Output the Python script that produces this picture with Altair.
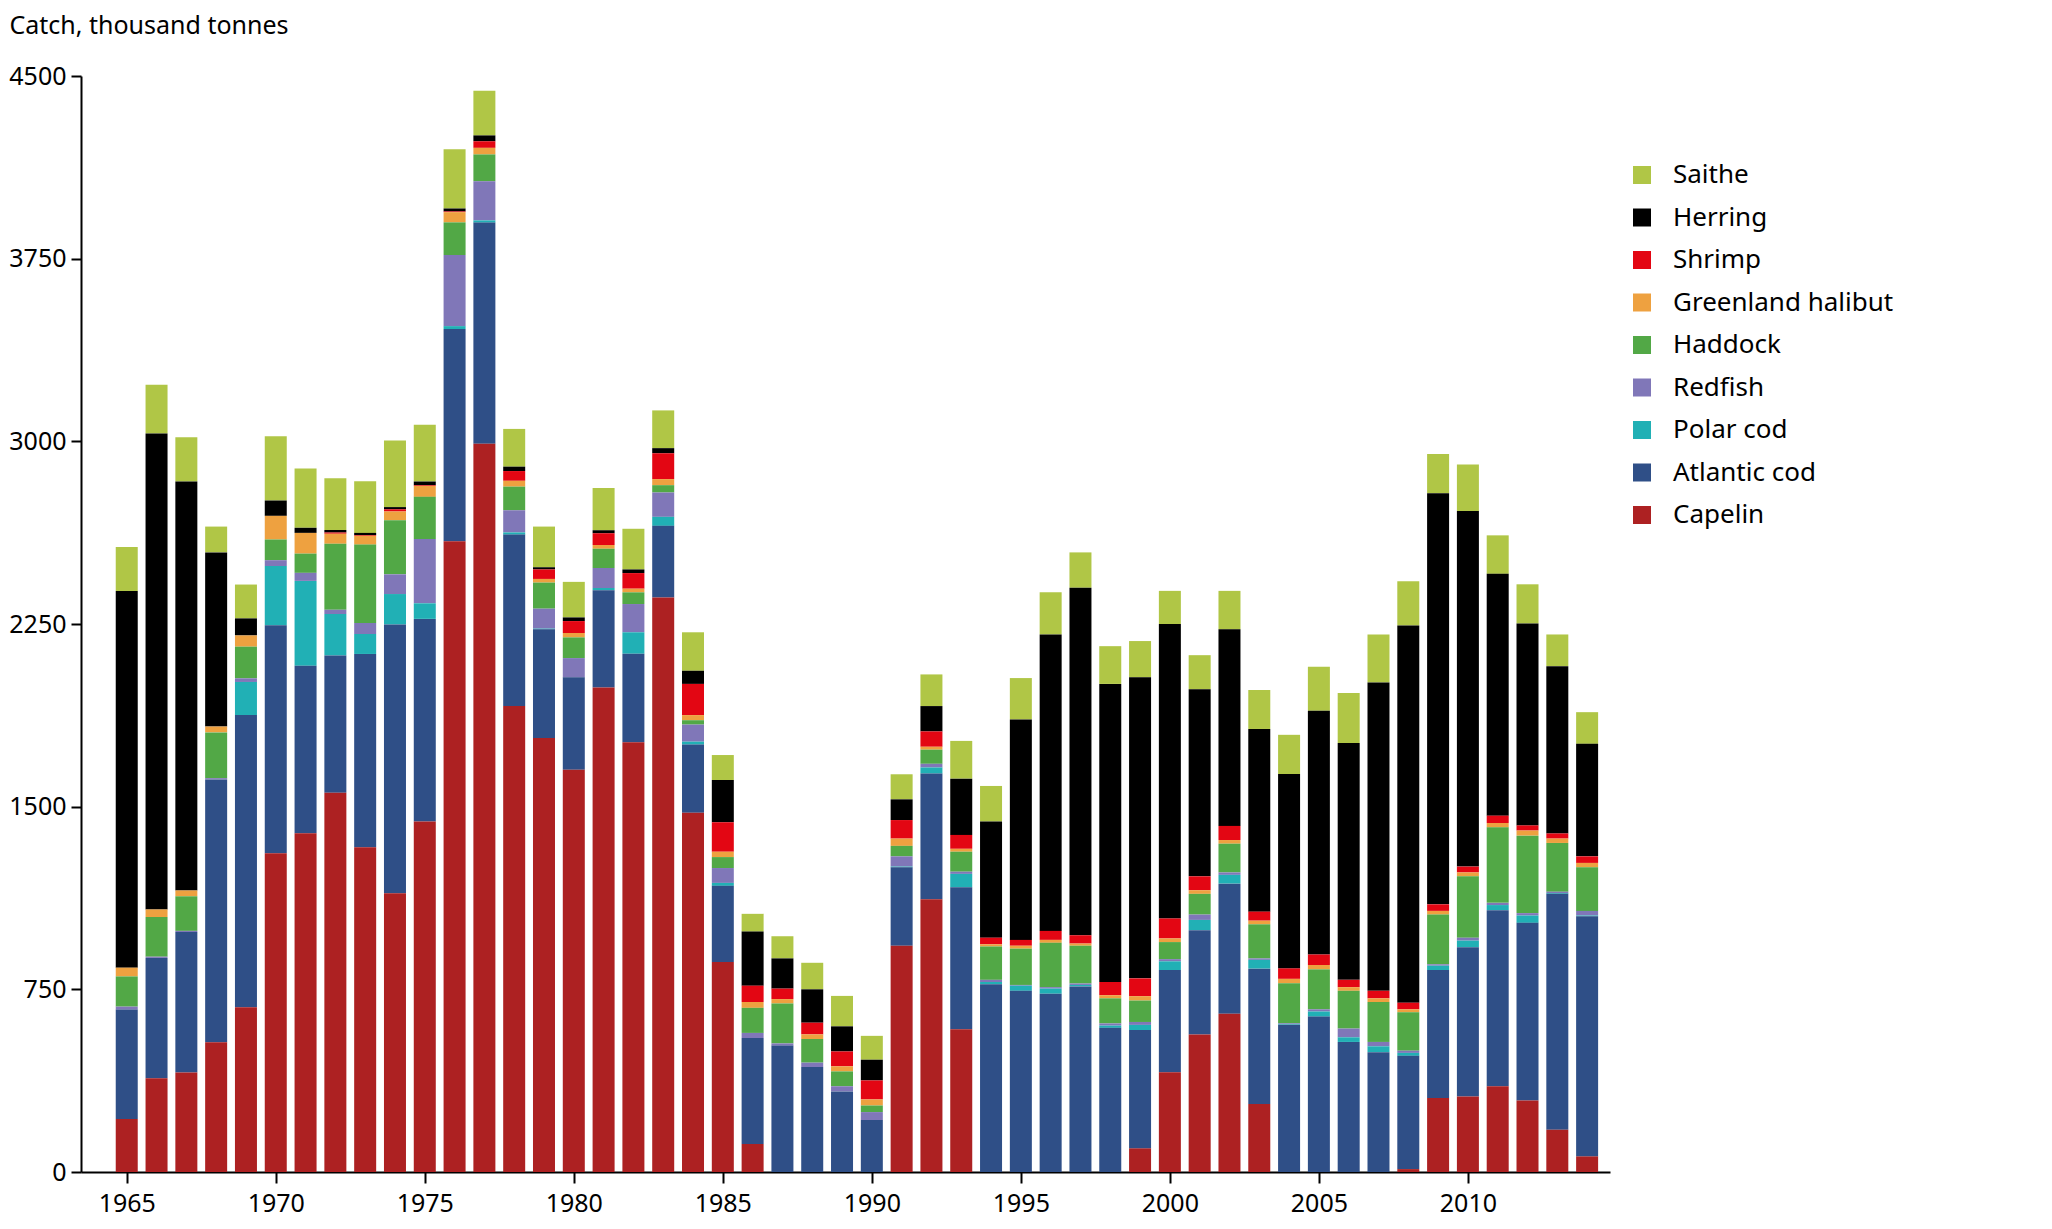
import altair as alt
import pandas as pd

years = list(range(1965, 2015))

# catch per species, thousand tonnes, 1965-2014
capelin = [218, 385, 409, 533, 676, 1309, 1391, 1557, 1333, 1145,
           1439, 2590, 2990, 1913, 1782, 1652, 1989, 1764, 2359, 1475,
           862, 115, 0, 0, 0, 0, 929, 1120, 586, 0,
           0, 0, 0, 0, 97, 410, 565, 650, 279, 0,
           0, 0, 0, 12, 304, 310, 352, 294, 173, 64]
atlantic_cod = [449, 494, 576, 1079, 1200, 936, 688, 564, 794, 1103,
                832, 871, 908, 704, 446, 379, 400, 364, 294, 280,
                313, 435, 519, 431, 331, 213, 322, 516, 583, 771,
                744, 732, 762, 592, 486, 419, 428, 534, 556, 605,
                638, 534, 492, 465, 525, 613, 723, 729, 969, 986]
polar_cod = [0, 0, 0, 0, 136, 243, 348, 170, 82, 125,
             64, 12, 9, 9, 3, 0, 9, 88, 37, 12,
             12, 0, 0, 0, 0, 0, 3, 25, 55, 9,
             21, 21, 6, 9, 21, 36, 42, 36, 36, 3,
             21, 19, 24, 12, 18, 27, 21, 30, 3, 3]
redfish = [12, 5, 5, 5, 15, 24, 33, 18, 45, 81,
           264, 292, 161, 91, 82, 79, 82, 116, 100, 70,
           61, 21, 9, 18, 21, 33, 42, 15, 9, 9,
           3, 6, 6, 9, 12, 9, 22, 10, 6, 3,
           9, 36, 18, 9, 6, 12, 9, 10, 6, 19]
haddock = [124, 163, 142, 188, 130, 85, 79, 270, 322, 222,
           173, 134, 110, 97, 107, 85, 79, 48, 30, 18,
           45, 103, 164, 97, 61, 27, 43, 58, 82, 137,
           149, 182, 155, 103, 88, 70, 85, 118, 140, 164,
           164, 155, 164, 158, 204, 252, 310, 318, 200, 179]
greenland_halibut = [36, 31, 24, 24, 46, 97, 85, 42, 36, 36,
                     45, 42, 27, 24, 15, 18, 15, 15, 25, 21,
                     22, 24, 18, 19, 21, 25, 30, 12, 12, 9,
                     12, 12, 9, 13, 18, 15, 15, 15, 15, 18,
                     18, 15, 15, 12, 15, 16, 18, 21, 18, 18]
shrimp = [0, 0, 0, 0, 0, 0, 0, 5, 3, 9,
          3, 3, 27, 40, 39, 49, 49, 64, 106, 128,
          121, 67, 43, 48, 61, 78, 76, 63, 57, 27,
          24, 37, 34, 54, 73, 82, 57, 58, 37, 43,
          43, 30, 31, 27, 27, 24, 30, 21, 21, 27]
herring = [1546, 1954, 1679, 715, 70, 63, 21, 10, 9, 9,
           15, 12, 24, 18, 9, 15, 12, 15, 21, 54,
           173, 222, 124, 137, 103, 85, 85, 104, 231, 477,
           905, 1217, 1427, 1224, 1236, 1209, 768, 807, 750, 798,
           1001, 972, 1266, 1549, 1688, 1460, 993, 829, 687, 462]
saithe = [181, 200, 182, 106, 139, 264, 243, 212, 212, 273,
          233, 243, 183, 155, 167, 146, 173, 167, 155, 158,
          103, 73, 91, 109, 125, 98, 103, 130, 155, 146,
          170, 173, 145, 155, 149, 136, 140, 158, 160, 161,
          180, 206, 197, 182, 161, 191, 158, 161, 130, 130]

# legend order (top to bottom); stacking goes the other way
species = ["Saithe", "Herring", "Shrimp", "Greenland halibut", "Haddock",
           "Redfish", "Polar cod", "Atlantic cod", "Capelin"]
colors = ["#b0c646", "#000000", "#e30613", "#eea140", "#52a846",
          "#8077b8", "#21b0b5", "#2f4f87", "#ad2122"]
series = [saithe, herring, shrimp, greenland_halibut, haddock,
          redfish, polar_cod, atlantic_cod, capelin]

rows = []
for rank, (name, values) in enumerate(zip(species, series)):
    for year, value in zip(years, values):
        rows.append({"year": year, "species": name, "catch": value,
                     "stack": len(species) - rank})
data = pd.DataFrame(rows)

font = "Noto Sans"

chart = alt.Chart(data).mark_bar(width=22).encode(
    x=alt.X(
        "year:Q",
        scale=alt.Scale(domain=[1963.633, 2014.6], nice=False, zero=False),
        axis=alt.Axis(
            values=list(range(1965, 2015, 5)), format="d", title=None,
            grid=False, tickSize=11, tickWidth=2, domainWidth=2,
            domainColor="black", tickColor="black", labelPadding=8,
            labelFontSize=25, labelColor="black", labelFont=font
        )
    ),
    y=alt.Y(
        "sum(catch):Q",
        stack="zero",
        scale=alt.Scale(domain=[0, 4500], nice=False),
        axis=alt.Axis(
            values=[0, 750, 1500, 2250, 3000, 3750, 4500], format="d",
            grid=False, tickSize=10, tickWidth=2, domainWidth=2,
            domainColor="black", tickColor="black", labelPadding=5,
            labelFontSize=25, labelColor="black", labelFont=font,
            title="Catch, thousand tonnes", titleAngle=0, titleAlign="left",
            titleBaseline="top", titleX=-72, titleY=-63, titleFontSize=25,
            titleFontWeight="normal", titleFont=font, titleColor="black"
        )
    ),
    color=alt.Color(
        "species:N",
        scale=alt.Scale(domain=species, range=colors),
        legend=alt.Legend(
            title=None, orient="none", legendX=1548, legendY=86,
            symbolType="square", symbolSize=324, symbolStrokeWidth=0,
            symbolOpacity=1, labelOffset=18, labelFontSize=26,
            labelFont=font, labelColor="black", labelLimit=0,
            rowPadding=16.5
        )
    ),
    order=alt.Order("stack:Q", sort="ascending"),
    tooltip=["year:Q", "species:N", "catch:Q"]
).properties(
    width=1529,
    height=1096,
    padding={"left": 0, "top": 5, "right": 0, "bottom": 12}
).configure_view(
    stroke=None
)

chart.save("out.html", embed_options={"renderer": "svg", "actions": False})
